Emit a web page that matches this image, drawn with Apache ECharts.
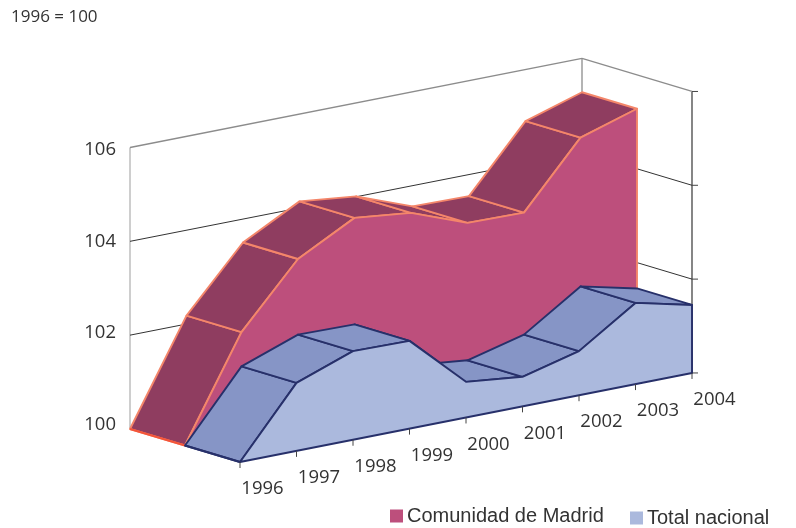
<!DOCTYPE html>
<html>
<head>
<meta charset="utf-8">
<style>html,body{margin:0;padding:0;background:#fff}#c{width:796px;height:528px}</style>
<script src="https://cdn.jsdelivr.net/npm/echarts@6/dist/echarts.min.js"></script>
</head>
<body>
<div id="c"></div>
<script>
const categories = ['1996','1997','1998','1999','2000','2001','2002','2003','2004'];
const madridValues = [100, 102.18, 103.50, 104.14, 104.01, 103.56, 103.54, 104.90, 105.28];
const totalValues = [100, 101.45, 101.89, 101.87, 100.76, 100.63, 100.94, 101.73, 101.45];
const yTicks = [100, 102, 104, 106];
const noteText = '1996 = 100';
const madridName = 'Comunidad de Madrid';
const totalName = 'Total nacional';

const GRID = {left: 130, top: 147.5, width: 452, height: 281.5};
const LABEL_GRID = {left: 130, top: 150, width: 452, height: 274.5};
const SLOPE = 0.197, DEPTH_X = 55, DEPTH_Y = 16.5;
const FONT = '"Open Sans", "Noto Sans", sans-serif';
const LEGEND_FONT = '"Liberation Sans", Arial, sans-serif';

// Oblique projection of (category index, value, depth layer) through the grid's own scales
function project(api, i, v, layer) {
  const p = api.coord([i, v]);
  return [p[0] + layer * DEPTH_X, p[1] - (p[0] - GRID.left) * SLOPE + layer * DEPTH_Y];
}

function areaRenderer(values, layer, topColor, faceColor, strokeColor, floorColor) {
  const lineStyle = {stroke: strokeColor, lineWidth: 1.9, lineJoin: 'round'};
  function band(api, k) {
    return {type: 'polygon', shape: {points: [
      project(api, k, values[k], layer), project(api, k + 1, values[k + 1], layer),
      project(api, k + 1, values[k + 1], layer + 1), project(api, k, values[k], layer + 1)
    ]}, style: Object.assign({fill: topColor}, lineStyle)};
  }
  function facesViewer(api, k) {
    const a = project(api, k, values[k], layer), b = project(api, k + 1, values[k + 1], layer);
    return (b[0] - a[0]) * DEPTH_Y - (b[1] - a[1]) * DEPTH_X > 0;
  }
  return function (params, api) {
    const i = params.dataIndex, n = values.length, children = [];
    if (i === 0) {
      // bands seen from below go first so the visible ones cover them
      for (let k = 0; k < n - 1; k++) if (!facesViewer(api, k)) children.push(band(api, k));
    }
    if (i < n - 1) {
      if (facesViewer(api, i)) children.push(band(api, i));
    } else {
      const pts = values.map((v, k) => project(api, k, v, layer + 1));
      pts.push(project(api, n - 1, yTicks[0], layer + 1));
      pts.push(project(api, 0, yTicks[0], layer + 1));
      children.push({type: 'polygon', shape: {points: pts}, style: Object.assign({fill: faceColor}, lineStyle)});
      children.push(line(project(api, 0, yTicks[0], layer), project(api, 0, yTicks[0], layer + 1), floorColor, 2.2));
    }
    return {type: 'group', children};
  };
}

function line(a, b, color, w) {
  return {type: 'line', shape: {x1: a[0], y1: a[1], x2: b[0], y2: b[1]}, style: {stroke: color, lineWidth: w}};
}

function wallRenderer(params, api) {
  const v = yTicks[params.dataIndex], last = categories.length - 1, top = yTicks[yTicks.length - 1];
  const isTop = v === top;
  const a = project(api, 0, v, 0), b = project(api, last, v, 0), c = project(api, last, v, 2);
  const color = isTop ? '#8c8c8c' : '#333333', w = isTop ? 1.3 : 1;
  const children = [];
  if (v !== yTicks[0]) {
    children.push(line(a, b, color, w), line(b, c, color, w));
  } else {
    children.push(line(a, project(api, 0, top, 0), '#b4b4b4', 1.3));
    children.push(line(b, project(api, last, top, 0), '#8c8c8c', 1.3));
    children.push(line(c, project(api, last, top, 2), '#444444', 1.3));
  }
  children.push(line(c, [c[0] + 6, c[1]], '#444444', 1));
  return {type: 'group', children};
}

function axisLabelRenderer(params, api) {
  const i = params.dataIndex;
  const p = project(api, i, yTicks[0], 2);
  return {type: 'group', children: [
    line(p, [p[0], p[1] + 6], '#444444', 1),
    {type: 'text', style: {
      x: p[0] + 22.5, y: p[1] + 27, text: categories[i],
      font: '18.5px ' + FONT, fill: '#333333', textAlign: 'center', textVerticalAlign: 'middle'
    }}
  ]};
}

const legendBase = {itemWidth: 13, itemHeight: 13, itemGap: 4, icon: 'rect', selectedMode: false,
  textStyle: {fontFamily: LEGEND_FONT, fontSize: 20, color: '#333', padding: [0, 0, 0, -1]}};

const option = {
  animation: false,
  backgroundColor: '#fff',
  title: {text: noteText, left: 6, top: 4, textStyle: {fontFamily: FONT, fontSize: 17, fontWeight: 'normal', color: '#333'}},
  legend: [
    Object.assign({data: [madridName], left: 385, top: 501}, legendBase),
    Object.assign({data: [totalName], left: 625, top: 503}, legendBase)
  ],
  grid: [Object.assign({}, GRID), Object.assign({}, LABEL_GRID)],
  xAxis: [
    {type: 'category', gridIndex: 0, data: categories, boundaryGap: false, show: false},
    {type: 'category', gridIndex: 1, data: categories, boundaryGap: false, show: false}
  ],
  yAxis: [
    {type: 'value', gridIndex: 0, min: 100, max: 106, interval: 2, show: false},
    {type: 'value', gridIndex: 1, min: 100, max: 106, interval: 2,
     axisLine: {show: false}, axisTick: {show: false}, splitLine: {show: false},
     axisLabel: {margin: 14, fontFamily: FONT, fontSize: 18.5, color: '#333'}}
  ],
  series: [
    {type: 'custom', name: 'walls', silent: true, z: 1, renderItem: wallRenderer,
     data: yTicks.map((v) => [0, v])},
    {type: 'custom', name: madridName, silent: true, z: 2, itemStyle: {color: '#bd4f7c'},
     renderItem: areaRenderer(madridValues, 0, '#8f3d60', '#bd4f7c', '#f4866a', '#f4553a'),
     data: madridValues.map((v, i) => [i, v])},
    {type: 'custom', name: totalName, silent: true, z: 3, itemStyle: {color: '#abb9dd'},
     renderItem: areaRenderer(totalValues, 1, '#8695c6', '#abb9dd', '#27306a', '#27306a'),
     data: totalValues.map((v, i) => [i, v])},
    {type: 'custom', name: 'categoryLabels', silent: true, z: 4, renderItem: axisLabelRenderer,
     data: categories.map((c, i) => [i, yTicks[0]])}
  ]
};
echarts.init(document.getElementById('c'), null, {renderer: 'canvas'}).setOption(option);
</script>
</body>
</html>
